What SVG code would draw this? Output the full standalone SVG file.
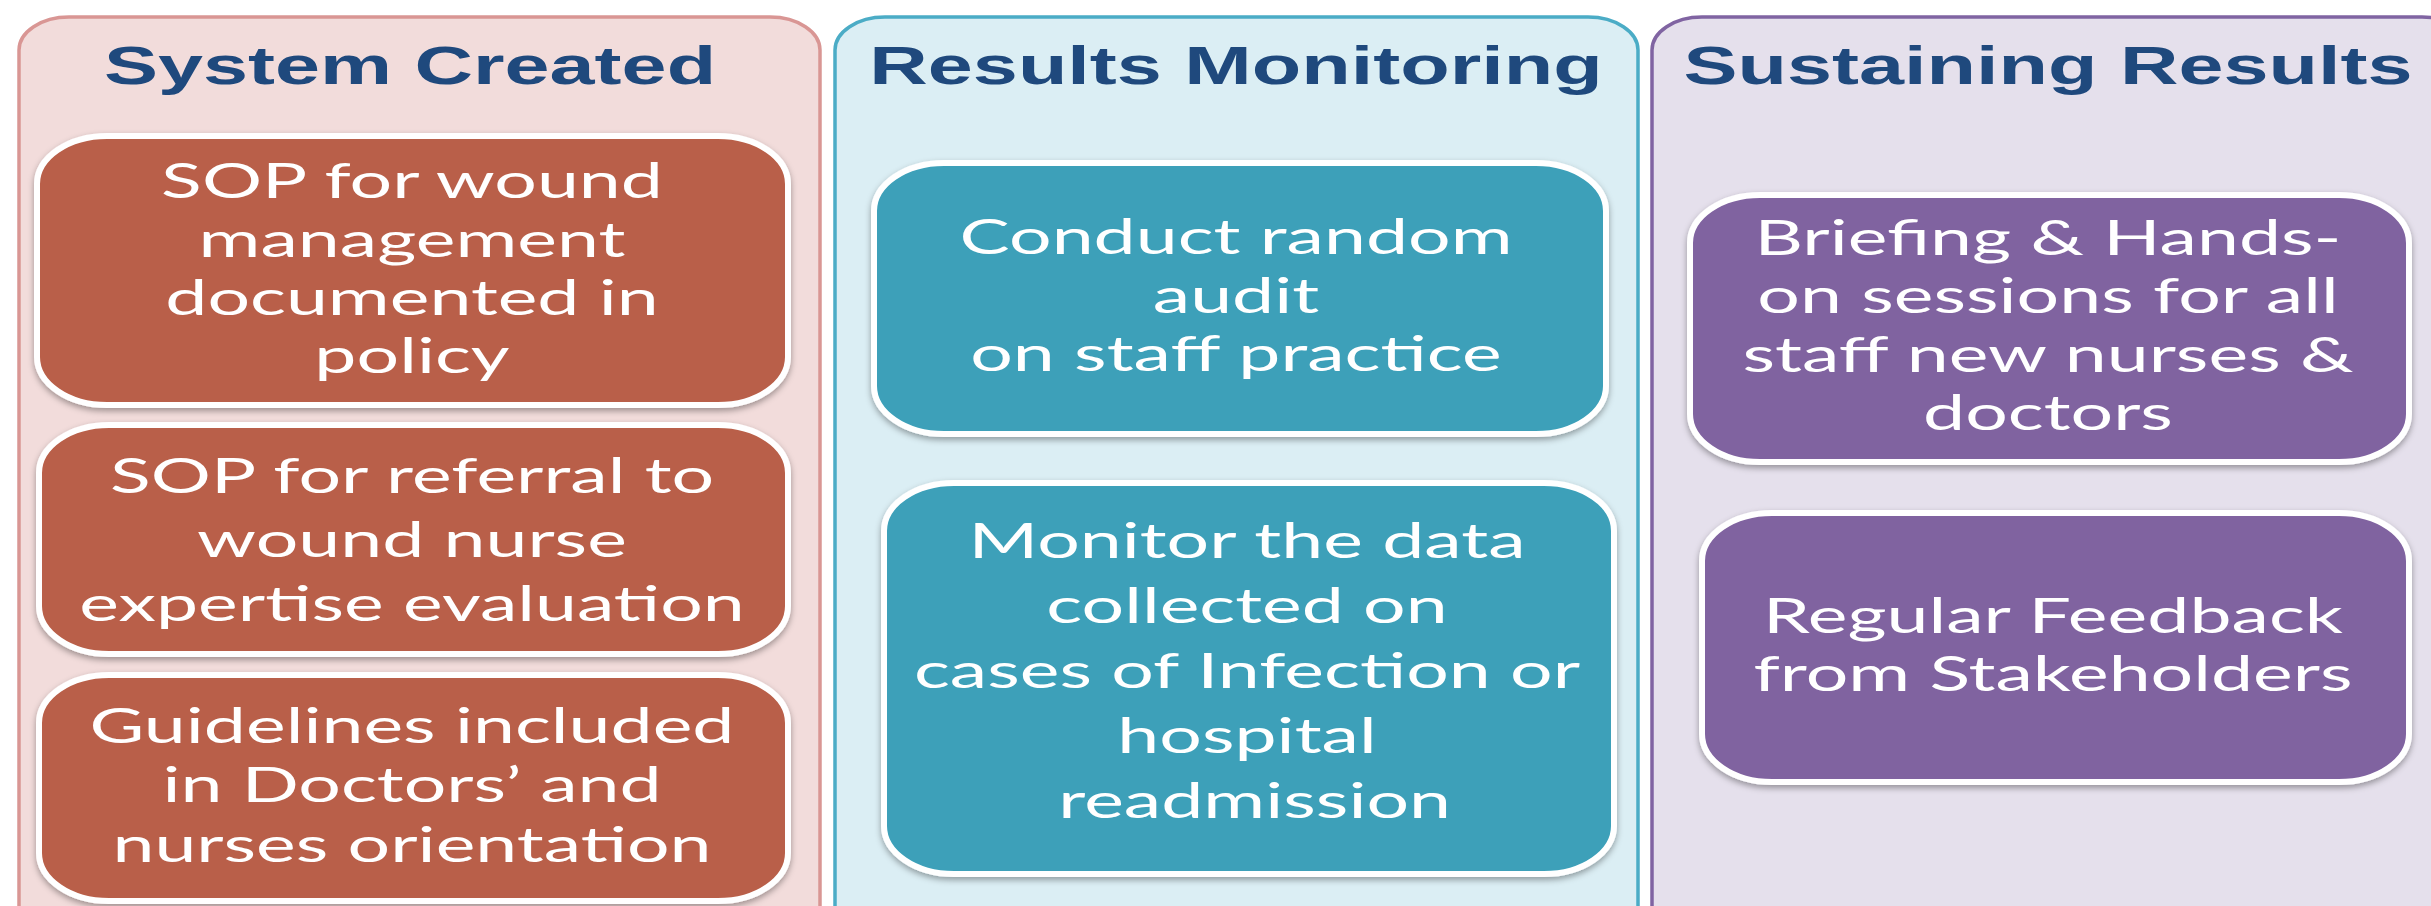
<svg xmlns="http://www.w3.org/2000/svg" width="2431" height="906" viewBox="0 0 2431 906">
<style>
.panel{stroke-width:3.5}
.p1{fill:#f2dcdb;stroke:#d99694}
.p2{fill:#dbeef4;stroke:#4bacc6}
.p3{fill:#e5e0ec;stroke:#8064a2}
.title{font-family:"Liberation Sans",Arial,sans-serif;font-weight:bold;font-size:54px;fill:#1f497d;text-anchor:middle}
.node{stroke:#ffffff;stroke-width:6;filter:url(#sh)}
.na{fill:#b95f48}
.nb{fill:#3ca0b9}
.nc{fill:#8063a0}
.lbl{font-family:Lato,"Open Sans",sans-serif;font-size:49px;fill:#ffffff;text-anchor:middle}
</style>
<defs>
<filter id="sh" x="-5%" y="-5%" width="110%" height="115%">
<feDropShadow dx="0" dy="3" stdDeviation="3" flood-color="#000000" flood-opacity="0.35"/>
</filter>
</defs>
<rect width="2431" height="906" fill="#ffffff"/>
<g id="panel-system-created">
<rect class="panel p1" x="19" y="17" width="801" height="940" rx="50" ry="33"/>
<text class="title" transform="translate(410,84) scale(1.5,1)">System Created</text>
</g>
<g id="panel-results-monitoring">
<rect class="panel p2" x="835" y="17" width="803" height="940" rx="50" ry="33"/>
<text class="title" transform="translate(1236,84) scale(1.5,1)">Results Monitoring</text>
</g>
<g id="panel-sustaining-results">
<rect class="panel p3" x="1652" y="17" width="820" height="940" rx="50" ry="33"/>
<text class="title" transform="translate(2048,84) scale(1.5,1)">Sustaining Results</text>
</g>
<g id="node-sop-wound">
<rect class="node na" x="37" y="136" width="751" height="269" rx="70" ry="48"/>
<g class="lbl" transform="translate(412,0) scale(1.535,1)">
<text x="0" y="198">SOP for wound</text>
<text x="0" y="257">management</text>
<text x="0" y="315">documented in</text>
<text x="0" y="373">policy</text>
</g>
</g>
<g id="node-sop-referral">
<rect class="node na" x="39" y="425" width="749" height="229" rx="70" ry="48"/>
<g class="lbl" transform="translate(412,0) scale(1.535,1)">
<text x="0" y="493">SOP for referral to</text>
<text x="0" y="557">wound nurse</text>
<text x="0" y="621">expertise evaluation</text>
</g>
</g>
<g id="node-guidelines">
<rect class="node na" x="39" y="675" width="749" height="226" rx="70" ry="48"/>
<g class="lbl" transform="translate(412,0) scale(1.535,1)">
<text x="0" y="743">Guidelines included</text>
<text x="0" y="802">in Doctors’ and</text>
<text x="0" y="862">nurses orientation</text>
</g>
</g>
<g id="node-random-audit">
<rect class="node nb" x="874" y="163" width="732" height="271" rx="70" ry="48"/>
<g class="lbl" transform="translate(1236,0) scale(1.535,1)">
<text x="0" y="254">Conduct random</text>
<text x="0" y="313">audit</text>
<text x="0" y="371">on staff practice</text>
</g>
</g>
<g id="node-monitor-data">
<rect class="node nb" x="884" y="483" width="730" height="391" rx="70" ry="48"/>
<g class="lbl" transform="translate(1247,0) scale(1.535,1)">
<text x="0" y="558">Monitor the data</text>
<text x="0" y="623">collected on</text>
<text x="0" y="688">cases of Infection or</text>
<text x="0" y="753">hospital</text>
<text x="5" y="818">readmission</text>
</g>
</g>
<g id="node-briefing">
<rect class="node nc" x="1690" y="195" width="719" height="267" rx="70" ry="48"/>
<g class="lbl" transform="translate(2048,0) scale(1.535,1)">
<text x="0" y="255">Briefing &amp; Hands-</text>
<text x="0" y="313">on sessions for all</text>
<text x="0" y="372">staff new nurses &amp;</text>
<text x="0" y="430">doctors</text>
</g>
</g>
<g id="node-feedback">
<rect class="node nc" x="1702" y="513" width="707" height="269" rx="70" ry="48"/>
<g class="lbl" transform="translate(2053,0) scale(1.535,1)">
<text x="0" y="633">Regular Feedback</text>
<text x="0" y="691">from Stakeholders</text>
</g>
</g>
<g id="connectors"></g>
</svg>
